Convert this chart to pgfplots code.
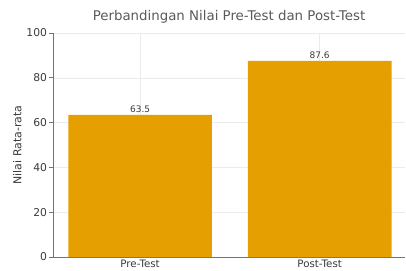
\documentclass[border=0pt]{standalone}
\usepackage{pgfplots}
\pgfplotsset{compat=1.18}
\usepackage{fontspec}
\setmainfont{DejaVu Sans}
\definecolor{barc}{HTML}{E69F00}
\definecolor{txt}{HTML}{3A3A3A}
\begin{document}
\begin{tikzpicture}
\path[use as bounding box] (-53bp,-14bp) rectangle (353bp,257bp);
\begin{axis}[
  at={(0,0)}, anchor=south west,
  scale only axis, width=352bp, height=224bp,
  xmin=-0.485, xmax=1.475, ymin=0, ymax=100,
  ybar, bar width=0.8, bar shift=0,
  xtick={0,1}, xticklabels={Pre-Test,Post-Test},
  ytick={0,20,40,60,80,100},
  axis x line*=bottom, axis y line*=left,
  axis line style={draw=black!55, line width=0.7pt},
  tick style={draw=black!55, line width=0.7pt},
  tick align=outside, major tick length=3.5bp,
  xtick style={draw=none},
  grid=major, major grid style={draw=black!8, line width=0.5pt},
  ticklabel style={font=\fontsize{10.8}{12}\selectfont, text=txt},
  yticklabel style={xshift=1bp},
  xticklabel style={yshift=2bp, inner sep=1bp, font=\fontsize{10.3}{11}\selectfont},
  /pgf/number format/assume math mode=true,
  ylabel={Nilai Rata-rata},
  ylabel style={font=\fontsize{11}{12}\selectfont, text=txt, yshift=-2bp},
  title={Perbandingan Nilai Pre-Test dan Post-Test},
  title style={font=\fontsize{13.4}{15}\selectfont, text=black!65, yshift=0bp},
  nodes near coords,
  nodes near coords style={font=\fontsize{9}{10}\selectfont, text=txt, yshift=-1bp, /pgf/number format/fixed, /pgf/number format/precision=1, /pgf/number format/fixed zerofill},
]
\addplot[fill=barc, draw=none] coordinates {(0,63.5) (1,87.6)};
\end{axis}
\end{tikzpicture}
\end{document}
